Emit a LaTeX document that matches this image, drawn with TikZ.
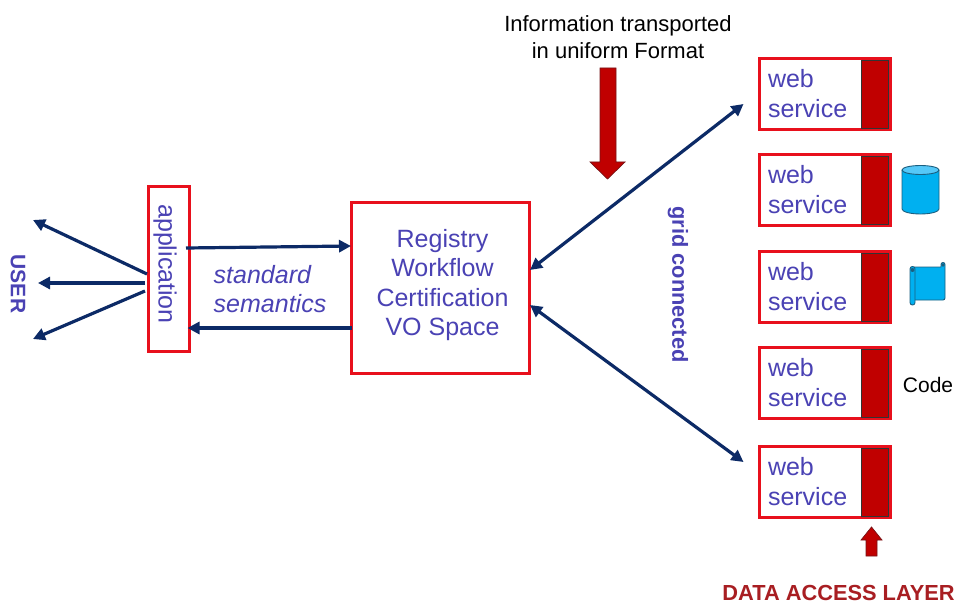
\documentclass[tikz,border=0pt]{standalone}
\usepackage{fontspec}
\setmainfont{Liberation Sans}
\usetikzlibrary{arrows.meta,calc}
\definecolor{txtblue}{HTML}{4A42B4}
\definecolor{boxred}{HTML}{E8101C}
\definecolor{barred}{HTML}{C00000}
\definecolor{navy}{HTML}{0C2A66}
\definecolor{cyl}{HTML}{00B0F0}
\definecolor{cyltop}{HTML}{55C8F8}
\definecolor{cyledge}{HTML}{1B5F80}
\definecolor{darkred}{HTML}{A81E22}
\tikzset{
  redbox/.style={draw=boxred,line width=3pt,fill=white,inner sep=0pt,text=txtblue,font=\fontsize{25}{30}\selectfont},
  wsbox/.style={redbox,minimum width=131pt,minimum height=71pt,text width=113pt,inner xsep=9pt,align=left},
  barbox/.style={draw=black!80,line width=0.7pt,fill=barred,inner sep=0pt,minimum width=27pt,minimum height=68pt},
  conn/.style={draw=navy,line width=3.2pt,-{Triangle[length=12pt,width=12pt]}},
  connb/.style={draw=navy,line width=3.2pt,{Triangle[length=12pt,width=12pt]}-{Triangle[length=12pt,width=12pt]}},
  bluelabel/.style={text=txtblue,inner sep=0pt},
  plainlabel/.style={text=black,inner sep=0pt},
  redarrow/.style={draw=darkred!70!black,line width=0.7pt,fill=barred},
  icon/.style={draw=cyledge,line width=0.9pt,fill=cyl}
}
\newcommand{\webbox}[3]{%
  \node[wsbox] (#1) at (#2,#3) {web\\service};
  \node[barbox] (#1bar) at (875,#3) {};
}
\begin{document}
\begin{tikzpicture}[x=1pt,y=-1pt]
\useasboundingbox (0,0) rectangle (957,604);
\fill[white] (0,0) rectangle (957,604);

% text at top
\node[plainlabel,align=center,font=\fontsize{22}{27}\selectfont] (info) at (618,37) {Information transported\\in uniform Format};

% big arrow
\draw[redarrow] (600,68) -- (616,68) -- (616,162) -- (625,162) -- (607.5,179) -- (590,162) -- (600,162) -- cycle;

% web services
\webbox{wsa}{824.5}{94}
\webbox{wsb}{824.5}{190}
\webbox{wsc}{824.5}{287}
\webbox{wsd}{824.5}{383}
\webbox{wse}{824.5}{482}

% registry
\node[redbox,minimum width=178pt,minimum height=171pt] (reg) at (440,287.5) {};
\node[bluelabel,align=center,font=\fontsize{25}{29.4}\selectfont] (reglabel) at (442.5,285)
  {Registry\\Workflow\\Certification\\VO Space};

% application
\node[redbox,minimum width=41pt,minimum height=165pt] (app) at (169,268.5) {};
\node[bluelabel,rotate=-90,font=\fontsize{25}{30}\selectfont] (applabel) at (165,264) {application};

% labels
\node[bluelabel,align=left,font=\fontsize{25}{29}\selectfont\itshape] (std) at (270,289) {standard\\semantics};
\node[bluelabel,rotate=-90,font=\fontsize{21}{25}\selectfont\bfseries] (user) at (18,284) {USER};
\node[bluelabel,rotate=-90,font=\fontsize{21.8}{26}\selectfont\bfseries] (grid) at (678,284.5) {grid connected};
\node[plainlabel,font=\fontsize{21}{25}\selectfont] (code) at (928,385) {Code};
\node[text=darkred,inner sep=0pt,font=\fontsize{21.8}{26}\selectfont\bfseries] (dal) at (838.5,593) {DATA ACCESS LAYER};

% free ends
\coordinate (ua) at (33,220);
\coordinate (ub) at (38,283);
\coordinate (uc) at (33,339);

% connectors
\draw[conn] ([shift={(-5pt,20.5pt)}]app.east) -- ([shift={(1.5pt,41.5pt)}]reg.west);
\draw[conn] ([shift={(2pt,-40.5pt)}]reg.west) -- ([shift={(-3.5pt,-59.5pt)}]app.east);
\draw[conn] ([yshift=-5.5pt]app.west) -- (ua);
\draw[conn] ([shift={(-2pt,-14.5pt)}]app.west) -- (ub);
\draw[conn] ([shift={(-2pt,-22.5pt)}]app.west) -- (uc);
\draw[connb] ([shift={(-0.5pt,17.5pt)}]reg.east) -- ([shift={(-14pt,-10pt)}]wsa.west);
\draw[connb] ([shift={(-0.5pt,-17.5pt)}]reg.east) -- ([shift={(-14pt,20pt)}]wse.west);

% small arrow
\draw[redarrow] (866,556) -- (877,556) -- (877,540) -- (882,540) -- (871.5,527) -- (861,540) -- (866,540) -- cycle;

% cylinder
\draw[icon] (902,170) -- (902,209) arc[start angle=180,end angle=360,x radius=18.5pt,y radius=5pt] -- (939,170);
\draw[icon,fill=cyltop] (920.5,170) ellipse[x radius=18.5pt,y radius=4.5pt];

% scroll
\draw[icon] (914,267) -- (941,267) -- (941,264.5) arc[start angle=180,end angle=0,radius=2pt] -- (945,298)
  arc[start angle=0,end angle=-90,radius=2pt] -- (914,300) -- cycle;
\draw[icon,rounded corners=2.4pt] (910,266.5) rectangle (915,305);
\fill[cyledge] (912.5,270) circle[radius=2pt];
\fill[cyledge] (943,265) circle[radius=1.8pt];
\end{tikzpicture}
\end{document}
